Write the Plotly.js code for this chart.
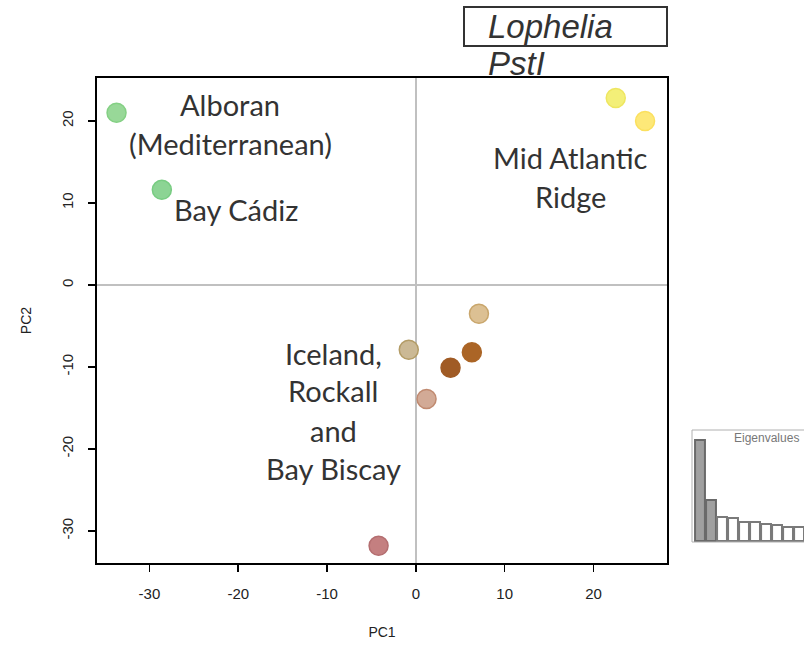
<!DOCTYPE html>
<html><head><meta charset="utf-8">
<script src="https://cdn.plot.ly/plotly-3.0.1.min.js"></script>
<style>html,body{margin:0;padding:0;background:#fff}</style>
</head><body><div id="chart" style="width:804px;height:646px"></div>
<script>
// PCA scores
const sampleNames = ['Alboran 1','Alboran 2 / Bay Cádiz','MAR 1','MAR 2','NE Atl 1','NE Atl 2','NE Atl 3','NE Atl 4','NE Atl 5','Bay Biscay'];
const pc1 = [-33.7, -28.6, 22.5, 25.8, 7.1, -0.8, 6.3, 3.9, 1.2, -4.2];
const pc2 = [21.0, 11.6, 22.8, 20.0, -3.5, -7.9, -8.2, -10.1, -13.9, -31.8];
const fillColors = ['#98d898','#8cd494','#f3ef78','#fde878','#dcc093','#cbb995','#ab6526','#a05b25','#d2aa96','#c47f80'];
const lineColors = ['#84d084','#78cc82','#eee660','#fbe05e','#c9a66c','#b39c66','#ab6526','#a05b25','#c08a70','#b46e70'];
// axis ticks
const tickValsX = [-30, -20, -10, 0, 10, 20];
const tickTextX = ['-30', '-20', '-10', '0', '10', '20'];
const tickValsY = [-30, -20, -10, 0, 10, 20];
const tickTextY = ['-30', '-20', '-10', '0', '10', '20'];
// Eigenvalue inset (relative heights)
const eigIndex = [1,2,3,4,5,6,7,8,9,10];
const eigValues = [101, 41, 24, 23, 19, 19, 17, 16, 14, 14];
const eigFill = ['#a0a0a0','#a0a0a0','#ffffff','#ffffff','#ffffff','#ffffff','#ffffff','#ffffff','#ffffff','#ffffff'];
const eigLine = ['#6a6a6a','#6a6a6a','#7a7a7a','#7a7a7a','#7a7a7a','#7a7a7a','#7a7a7a','#7a7a7a','#7a7a7a','#7a7a7a'];

const W = 707; // paper width (804 - left margin 97)
const px = v => (v - 97) / W;
const py = v => (563 - v) / 485;

const traces = [
  {type:'scatter', mode:'markers', x:pc1, y:pc2, text:sampleNames, hoverinfo:'text',
   marker:{size:19, color:fillColors, line:{color:lineColors, width:1.5}}, xaxis:'x', yaxis:'y', showlegend:false},
  {type:'bar', x:eigIndex, y:eigValues, width:0.9, xaxis:'x2', yaxis:'y2', showlegend:false,
   marker:{color:eigFill, line:{color:eigLine, width:2}}}
];

const txtFont = {family:'Lato, Open Sans, sans-serif', size:29, color:'#333333'};
function lab(text, xPix, yPix){
  return {text:text, xref:'paper', yref:'paper', x:px(xPix), y:py(yPix), xanchor:'center', yanchor:'middle', showarrow:false, font:txtFont};
}
const annotations = [
  lab('Alboran', 230, 104),
  lab('(Mediterranean)', 230, 143),
  lab('Bay Cádiz', 236, 209),
  lab('Mid Atlantic', 570, 157),
  lab('Ridge', 570, 196),
  lab('Iceland,', 333, 353),
  lab('Rockall', 333, 391),
  lab('and', 333, 430),
  lab('Bay Biscay', 333, 468),
  {text:'<i>Lophelia</i>', xref:'paper', yref:'paper', x:px(486), y:py(27), xanchor:'left', yanchor:'middle', showarrow:false,
   font:{family:'Liberation Sans, Arial, sans-serif', size:33, color:'#333333'}},
  {text:'<i>PstI</i>', xref:'paper', yref:'paper', x:px(486), y:py(63), xanchor:'left', yanchor:'middle', showarrow:false,
   font:{family:'Liberation Sans, Arial, sans-serif', size:33, color:'#333333'}},
  {text:'Eigenvalues', xref:'paper', yref:'paper', x:px(766), y:py(438), xanchor:'center', yanchor:'middle', showarrow:false,
   font:{family:'Liberation Sans, Arial, sans-serif', size:12, color:'#777777'}}
];

const shapes = [
  {type:'rect', xref:'paper', yref:'paper', x0:px(464), x1:px(667), y0:py(46), y1:py(7), line:{color:'#333333', width:2}, fillcolor:'rgba(0,0,0,0)'},
  {type:'rect', xref:'paper', yref:'paper', x0:px(692), x1:px(830), y0:py(542), y1:py(430), line:{color:'#b0b0b0', width:1}, fillcolor:'rgba(0,0,0,0)'}
];

const tickFont = {family:'Liberation Sans, Arial, sans-serif', size:15, color:'#222222'};
const titleFont = {family:'Liberation Sans, Arial, sans-serif', size:14, color:'#222222'};
const layout = {
  width:804, height:646,
  margin:{l:97, r:0, t:78, b:83, pad:0},
  paper_bgcolor:'#ffffff', plot_bgcolor:'#ffffff',
  xaxis:{domain:[0, 570/W], range:[-35.9, 28.27], tickmode:'array', tickvals:tickValsX, ticktext:tickTextX,
    showgrid:false, zeroline:true, zerolinecolor:'#c0c0c0', zerolinewidth:2,
    showline:true, linecolor:'#000', linewidth:2, mirror:true,
    ticks:'outside', ticklen:7, tickwidth:1.5, tickcolor:'#000', tickfont:tickFont, ticklabelstandoff:9,
    title:{text:'PC1', font:titleFont, standoff:26}},
  yaxis:{domain:[0,1], range:[-33.9, 25.24], tickmode:'array', tickvals:tickValsY, ticktext:tickTextY,
    showgrid:false, zeroline:true, zerolinecolor:'#c0c0c0', zerolinewidth:2,
    showline:true, linecolor:'#000', linewidth:2, mirror:true,
    ticks:'outside', ticklen:7, tickwidth:1.5, tickcolor:'#000', tickfont:tickFont, tickangle:-90, ticklabelstandoff:9,
    title:{text:'PC2', font:titleFont, standoff:24}},
  xaxis2:{domain:[px(692), 1], range:[0.273, 10.45], anchor:'y2', showgrid:false, zeroline:false, showline:false,
    showticklabels:false, ticks:''},
  yaxis2:{domain:[py(542), py(430)], range:[-1, 111], anchor:'x2', showgrid:false, zeroline:false, showline:false,
    showticklabels:false, ticks:''},
  annotations:annotations, shapes:shapes, bargap:0.1
};
Plotly.newPlot('chart', traces, layout, {displayModeBar:false, staticPlot:true});
</script></body></html>
